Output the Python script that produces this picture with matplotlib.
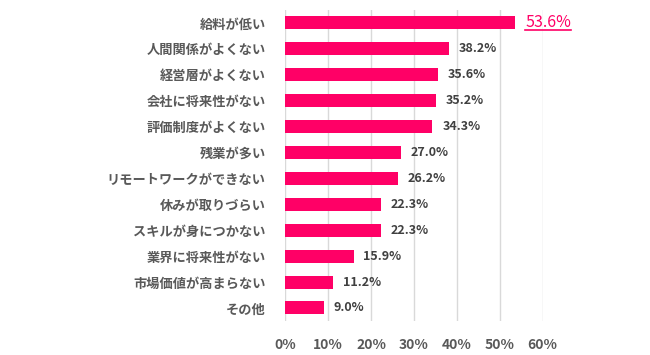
import matplotlib
matplotlib.use('Agg')
import matplotlib.pyplot as plt
from matplotlib.lines import Line2D

plt.rcParams['font.family'] = ['Noto Sans CJK JP', 'DejaVu Sans']

# data
reasons = ['給料が低い', '人間関係がよくない', '経営層がよくない', '会社に将来性がない',
           '評価制度がよくない', '残業が多い', 'リモートワークができない', '休みが取りづらい',
           'スキルが身につかない', '業界に将来性がない', '市場価値が高まらない', 'その他']
values = [53.6, 38.2, 35.6, 35.2, 34.3, 27.0, 26.2, 22.3, 22.3, 15.9, 11.2, 9.0]
xticks = [0, 10, 20, 30, 40, 50, 60]

pink = '#FF0066'
gray = '#404040'

fig = plt.figure(figsize=(6.5, 3.55), dpi=100)
ax = fig.add_axes([0.439, 0.096, 0.396, 0.876])

pos = list(range(len(reasons)))
ax.barh(pos, values, height=0.5, color=pink, zorder=3)
ax.set_ylim(len(reasons) - 0.5, -0.5)
ax.set_xlim(0, 60)
ax.set_xticks(xticks)
ax.set_xticklabels([f'{t}%' for t in xticks], fontsize=10, color='#595959', fontweight='bold')
ax.set_yticks(pos)
ax.set_yticklabels(reasons, fontsize=9.5, color='#595959', fontweight='bold')
ax.tick_params(axis='both', length=0)
ax.tick_params(axis='y', pad=14)
ax.tick_params(axis='x', pad=12)
ax.grid(axis='x', color='#D9D9D9', linewidth=1, zorder=0)
for s in ax.spines.values():
    s.set_visible(False)

labels = []
for i, v in enumerate(values):
    if i == 0:
        t = ax.annotate(f'{v:.1f}%', (v, i), xytext=(7, 0), textcoords='offset points',
                        va='center', ha='left', fontsize=11.5, color=pink)
        labels.append(t)
    else:
        ax.annotate(f'{v:.1f}%', (v, i), xytext=(7, 0), textcoords='offset points',
                    va='center', ha='left', fontsize=9, color=gray, fontweight='bold')

# underline for top value
fig.canvas.draw()
r = fig.canvas.get_renderer()
bb = labels[0].get_window_extent(r)
W, H = fig.get_size_inches() * fig.dpi
y0 = (bb.y0 + 1) / H
fig.add_artist(Line2D([bb.x0 / W, bb.x1 / W], [y0, y0], color=pink, linewidth=1.2))

fig.savefig('out.png', dpi=100)
